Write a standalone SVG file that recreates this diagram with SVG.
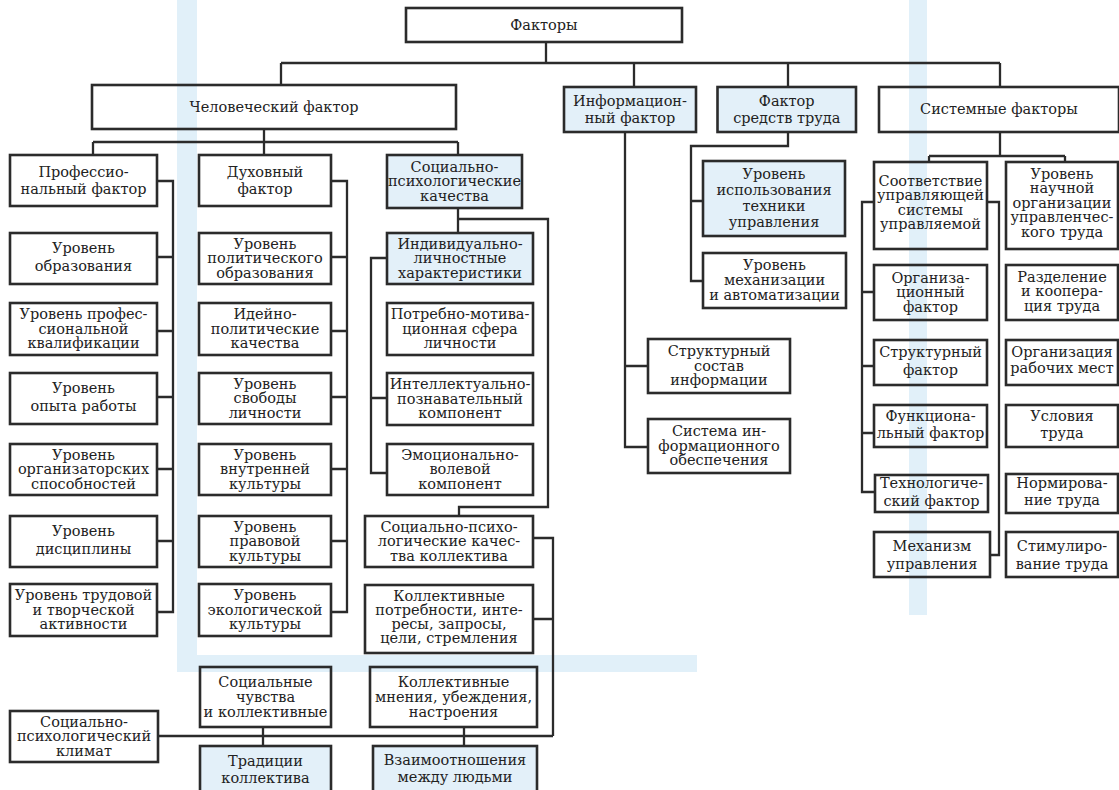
<svg xmlns="http://www.w3.org/2000/svg" width="1119" height="790" viewBox="0 0 1119 790">
<style>
.b{fill:none;stroke:#2b2b2b;stroke-width:2.6}
.t{fill:#e3f0f9;stroke:#2b2b2b;stroke-width:2.6}
.c{fill:none;stroke:#2b2b2b;stroke-width:2.3}
text{font-family:"DejaVu Serif","Liberation Serif",serif;font-size:14.5px;fill:#222222;text-anchor:middle}
.wm{fill:#e1f0f9}
</style>
<rect width="1119" height="790" fill="#ffffff"/>
<g id="watermark">
<rect class="wm" x="177" y="0" width="20" height="672"/>
<rect class="wm" x="909" y="0" width="18" height="615"/>
<rect class="wm" x="177" y="655" width="520" height="17"/>
</g>
<g id="connectors">
<path class="c" d="M546 42V63M281 63H1000M281 63V85M634 63V87M788 63V87M1000 63V87"/>
<path class="c" d="M264 129V155M93 142H458M93 142V155M458 142V155"/>
<path class="c" d="M157 181H173V612H157M157 257H173M157 331H173M157 397H173M157 469H173M157 541H173"/>
<path class="c" d="M331 181H347V612H331M331 257H347M331 331H347M331 397H347M331 469H347M331 541H347"/>
<path class="c" d="M458 208V233M458 219H548V507H459V516"/>
<path class="c" d="M387 258H371V473H387M371 398H387"/>
<path class="c" d="M533 538H553V736M533 619H553M158 736H553M263 727V746M464 727V746"/>
<path class="c" d="M625 132V447H648M625 366H648"/>
<path class="c" d="M788 132V146H691V281H703M691 201H703"/>
<path class="c" d="M1000 132V156M929 156H1065M929 156V162M1065 156V162"/>
<path class="c" d="M874 202H862V492H875M862 292H874M862 366H874M862 433H874"/>
<path class="c" d="M987 202H999V555H990"/>
<path class="c" d="M1118 294H1125M1118 363H1125M1118 427H1125M1118 497H1125M1118 563H1125"/>
</g>
<g id="n-factors"><rect class="b" x="406" y="8" width="276" height="34"/><text x="544" y="29.5">Факторы</text></g>
<g id="n-human"><rect class="b" x="92" y="85" width="364" height="44"/><text x="274" y="111.5">Человеческий фактор</text></g>
<g id="n-info"><rect class="t" x="564" y="87" width="132" height="45"/><text x="630" y="105.5">Информацион-</text><text x="630" y="122.5">ный фактор</text></g>
<g id="n-means"><rect class="t" x="717.5" y="87" width="138.5" height="45"/><text x="786.75" y="105.5">Фактор</text><text x="786.75" y="122.5">средств труда</text></g>
<g id="n-system"><rect class="b" x="879" y="87" width="240" height="45"/><text x="999" y="114">Системные факторы</text></g>

<g id="n-prof"><rect class="b" x="10" y="155" width="147" height="51"/><text x="83.5" y="176.5">Профессио-</text><text x="83.5" y="193.5">нальный фактор</text></g>
<g id="n-edu"><rect class="b" x="10" y="233" width="147" height="51"/><text x="83.5" y="253">Уровень</text><text x="83.5" y="270.5">образования</text></g>
<g id="n-qual"><rect class="b" x="10" y="303" width="147" height="52"/><text x="83.5" y="319">Уровень профес-</text><text x="83.5" y="333.5">сиональной</text><text x="83.5" y="348">квалификации</text></g>
<g id="n-exp"><rect class="b" x="10" y="373" width="147" height="51"/><text x="83.5" y="393">Уровень</text><text x="83.5" y="410.5">опыта работы</text></g>
<g id="n-org"><rect class="b" x="10" y="444" width="147" height="51"/><text x="83.5" y="459.5">Уровень</text><text x="83.5" y="474">организаторских</text><text x="83.5" y="488.5">способностей</text></g>
<g id="n-disc"><rect class="b" x="10" y="516" width="147" height="51"/><text x="83.5" y="536">Уровень</text><text x="83.5" y="553.5">дисциплины</text></g>
<g id="n-act"><rect class="b" x="10" y="584" width="147" height="52"/><text x="83.5" y="600">Уровень трудовой</text><text x="83.5" y="614.5">и творческой</text><text x="83.5" y="629">активности</text></g>

<g id="n-spirit"><rect class="b" x="199" y="155" width="132" height="51"/><text x="265" y="176.5">Духовный</text><text x="265" y="193.5">фактор</text></g>
<g id="n-pol"><rect class="b" x="199" y="233" width="132" height="51"/><text x="265" y="248.5">Уровень</text><text x="265" y="263">политического</text><text x="265" y="277.5">образования</text></g>
<g id="n-ideo"><rect class="b" x="199" y="303" width="132" height="52"/><text x="265" y="319">Идейно-</text><text x="265" y="333.5">политические</text><text x="265" y="348">качества</text></g>
<g id="n-free"><rect class="b" x="199" y="373" width="132" height="51"/><text x="265" y="388.5">Уровень</text><text x="265" y="403">свободы</text><text x="265" y="417.5">личности</text></g>
<g id="n-inner"><rect class="b" x="199" y="444" width="132" height="51"/><text x="265" y="459.5">Уровень</text><text x="265" y="474">внутренней</text><text x="265" y="488.5">культуры</text></g>
<g id="n-law"><rect class="b" x="199" y="516" width="132" height="51"/><text x="265" y="531.5">Уровень</text><text x="265" y="546">правовой</text><text x="265" y="560.5">культуры</text></g>
<g id="n-eco"><rect class="b" x="199" y="584" width="132" height="52"/><text x="265" y="600">Уровень</text><text x="265" y="614.5">экологической</text><text x="265" y="629">культуры</text></g>

<g id="n-sp"><rect class="t" x="387" y="155" width="135" height="53"/><text x="454.5" y="171.5">Социально-</text><text x="454.5" y="186">психологические</text><text x="454.5" y="200.5">качества</text></g>
<g id="n-ind"><rect class="t" x="387" y="233" width="146" height="51"/><text x="460" y="248.5">Индивидуально-</text><text x="460" y="263">личностные</text><text x="460" y="277.5">характеристики</text></g>
<g id="n-need"><rect class="b" x="387" y="303" width="146" height="52"/><text x="460" y="319">Потребно-мотива-</text><text x="460" y="333.5">ционная сфера</text><text x="460" y="348">личности</text></g>
<g id="n-int"><rect class="b" x="387" y="373" width="146" height="52"/><text x="460" y="389">Интеллектуально-</text><text x="460" y="403.5">познавательный</text><text x="460" y="418">компонент</text></g>
<g id="n-emo"><rect class="b" x="387" y="444" width="146" height="51"/><text x="460" y="459.5">Эмоционально-</text><text x="460" y="474">волевой</text><text x="460" y="488.5">компонент</text></g>
<g id="n-coll"><rect class="b" x="365" y="516" width="168" height="51"/><text x="449" y="531.5">Социально-психо-</text><text x="449" y="546">логические качес-</text><text x="449" y="560.5">тва коллектива</text></g>
<g id="n-cneed"><rect class="b" x="365" y="585" width="168" height="68"/><text x="449" y="600.5">Коллективные</text><text x="449" y="614.8">потребности, инте-</text><text x="449" y="629.1">ресы, запросы,</text><text x="449" y="643.4">цели, стремления</text></g>
<g id="n-opin"><rect class="b" x="370" y="667" width="167" height="60"/><text x="453.5" y="686.5">Коллективные</text><text x="453.5" y="701.5">мнения, убеждения,</text><text x="453.5" y="716.5">настроения</text></g>
<g id="n-rel"><rect class="t" x="373" y="746" width="164" height="54"/><text x="455" y="765">Взаимоотношения</text><text x="455" y="781.5">между людьми</text></g>
<g id="n-feel"><rect class="b" x="200" y="667" width="131" height="60"/><text x="265.5" y="686.5">Социальные</text><text x="265.5" y="701.5">чувства</text><text x="265.5" y="716.5">и коллективные</text></g>
<g id="n-trad"><rect class="t" x="200" y="746" width="131" height="54"/><text x="265.5" y="766">Традиции</text><text x="265.5" y="783">коллектива</text></g>
<g id="n-clim"><rect class="b" x="10" y="711" width="148" height="51"/><text x="84" y="726.5">Социально-</text><text x="84" y="741">психологический</text><text x="84" y="755.5">климат</text></g>

<g id="n-struct"><rect class="b" x="648" y="339" width="142" height="54"/><text x="719" y="356">Структурный</text><text x="719" y="370.5">состав</text><text x="719" y="385">информации</text></g>
<g id="n-infsys"><rect class="b" x="648" y="419" width="142" height="54"/><text x="719" y="436">Система ин-</text><text x="719" y="450.5">формационного</text><text x="719" y="465">обеспечения</text></g>

<g id="n-tech"><rect class="t" x="703" y="161" width="142" height="75"/><text x="774" y="179">Уровень</text><text x="774" y="195">использования</text><text x="774" y="211">техники</text><text x="774" y="227">управления</text></g>
<g id="n-mech"><rect class="b" x="703" y="253" width="143" height="55"/><text x="774.5" y="270">Уровень</text><text x="774.5" y="285">механизации</text><text x="774.5" y="300">и автоматизации</text></g>

<g id="n-match"><rect class="b" x="874" y="162" width="113" height="87"/><text x="930.5" y="185.5">Соответствие</text><text x="930.5" y="200">управляющей</text><text x="930.5" y="214.5">системы</text><text x="930.5" y="229">управляемой</text></g>
<g id="n-sci"><rect class="b" x="1006" y="162" width="112" height="87"/><text x="1062" y="178.5">Уровень</text><text x="1062" y="193">научной</text><text x="1062" y="207.5">организации</text><text x="1062" y="222">управленчес-</text><text x="1062" y="236.5">кого труда</text></g>
<g id="n-orgf"><rect class="b" x="874" y="265" width="113" height="55"/><text x="930.5" y="282.5">Организа-</text><text x="930.5" y="297">ционный</text><text x="930.5" y="311.5">фактор</text></g>
<g id="n-strf"><rect class="b" x="874" y="340" width="113" height="45"/><text x="930.5" y="357">Структурный</text><text x="930.5" y="374.5">фактор</text></g>
<g id="n-func"><rect class="b" x="874" y="405" width="113" height="42"/><text x="930.5" y="420.5">Функциона-</text><text x="930.5" y="438">льный фактор</text></g>
<g id="n-techf"><rect class="b" x="875" y="475" width="113" height="37"/><text x="931.5" y="488">Технологиче-</text><text x="931.5" y="505.5">ский фактор</text></g>
<g id="n-mgmt"><rect class="b" x="874" y="532" width="116" height="45"/><text x="932" y="551">Механизм</text><text x="932" y="569">управления</text></g>
<g id="n-div"><rect class="b" x="1006" y="265" width="112" height="55"/><text x="1062" y="281.5">Разделение</text><text x="1062" y="296">и коопера-</text><text x="1062" y="310.5">ция труда</text></g>
<g id="n-work"><rect class="b" x="1006" y="340" width="112" height="45"/><text x="1062" y="357">Организация</text><text x="1062" y="373">рабочих мест</text></g>
<g id="n-cond"><rect class="b" x="1006" y="405" width="112" height="42"/><text x="1062" y="421">Условия</text><text x="1062" y="438">труда</text></g>
<g id="n-norm"><rect class="b" x="1006" y="474" width="112" height="39"/><text x="1062" y="487.5">Нормирова-</text><text x="1062" y="505">ние труда</text></g>
<g id="n-stim"><rect class="b" x="1006" y="532" width="112" height="45"/><text x="1062" y="551">Стимулиро-</text><text x="1062" y="569">вание труда</text></g>
</svg>
